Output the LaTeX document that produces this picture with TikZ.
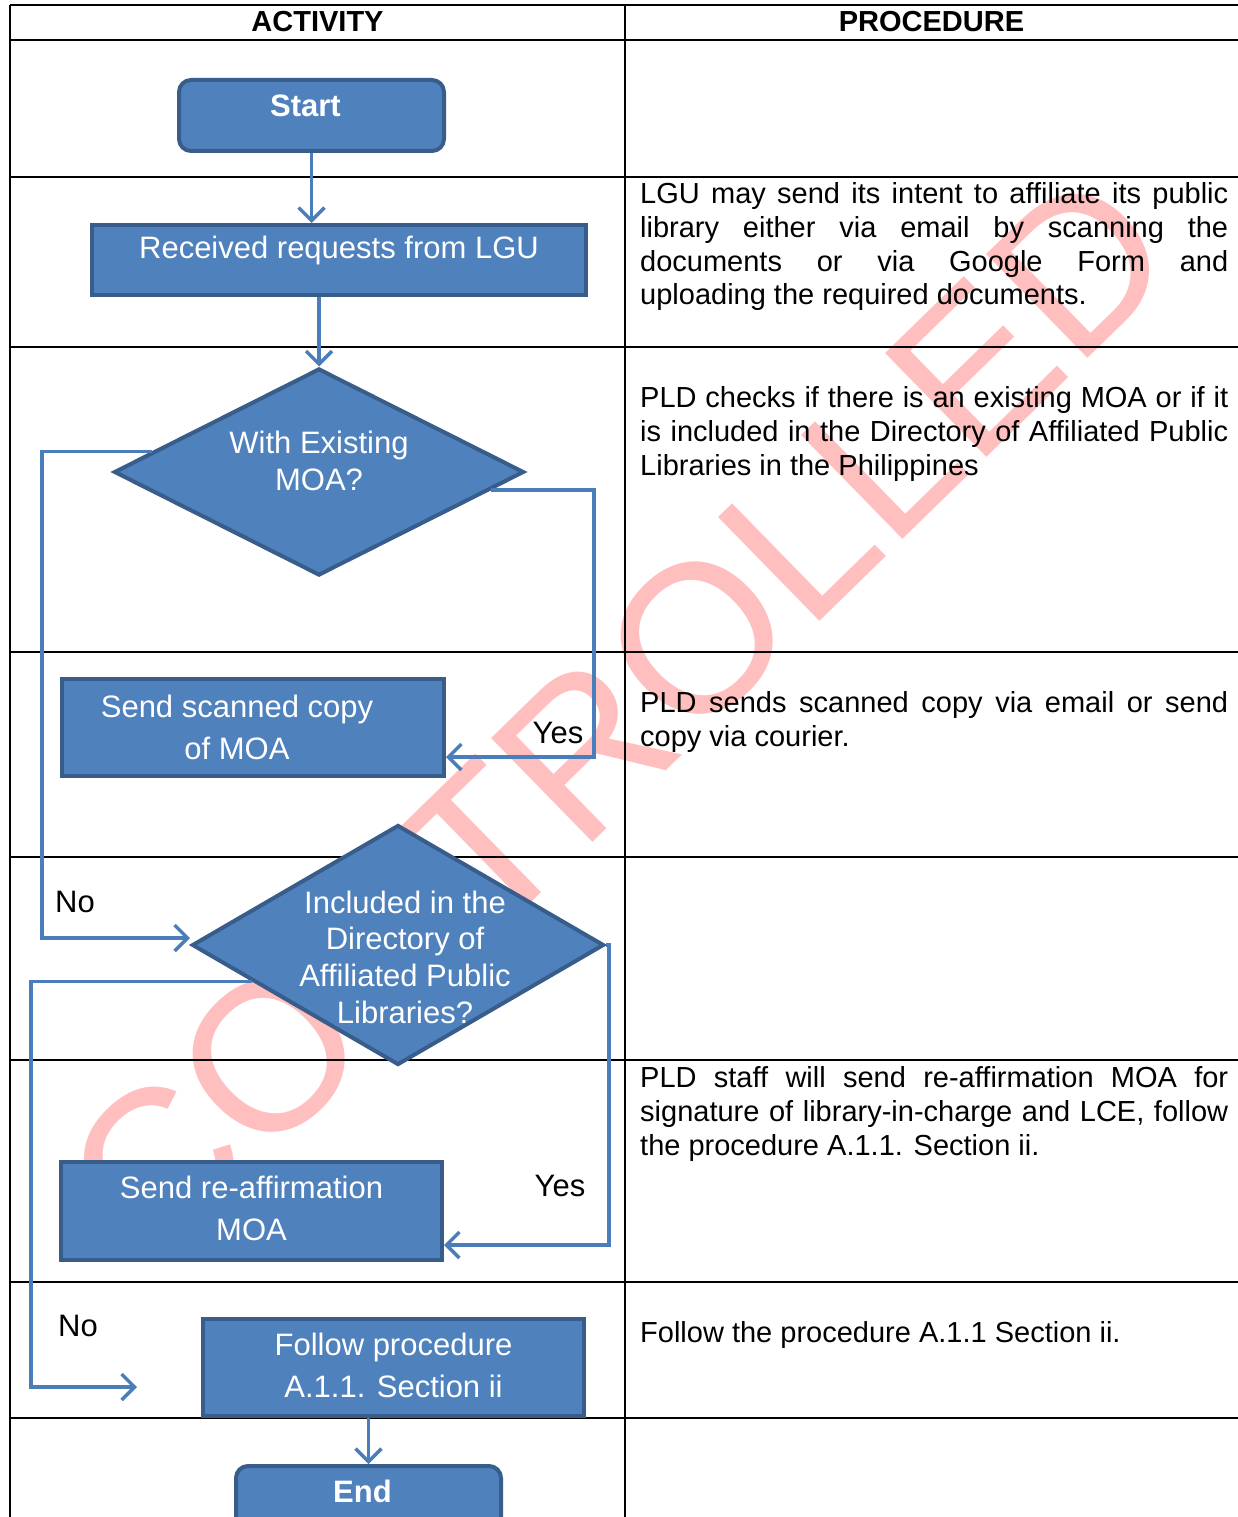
\documentclass[tikz,border=0pt]{standalone}
\usepackage{fontspec}
\setmainfont{Liberation Sans}
\usetikzlibrary{shapes.geometric,arrows.meta,calc}
\definecolor{fcfill}{HTML}{4F81BD}
\definecolor{fcedge}{HTML}{385D8A}
\definecolor{fcline}{HTML}{4A7EBB}
\definecolor{wmark}{HTML}{FFBFBF}
\begin{document}
\begin{tikzpicture}[x=1pt,y=-1pt,
  box/.style={draw=fcedge, fill=fcfill, line width=4pt, inner sep=0pt},
  rbox/.style={box, rounded corners=12pt},
  dia/.style={box, diamond},
  wtxt/.style={text=white, font=\fontsize{31}{42}\selectfont, align=center, inner sep=0pt},
  dtxt/.style={text=white, font=\fontsize{31}{36.7}\selectfont, align=center, inner sep=0pt},
  conn/.style={draw=fcline, line width=3.5pt, -{Straight Barb[length=13pt,width=26pt,line width=3.5pt]}},
  tbl/.style={draw=black, line width=1.5pt},
  hdr/.style={font=\fontsize{29}{33}\selectfont\bfseries, inner sep=0pt},
  lbl/.style={font=\fontsize{31}{36}\selectfont, inner sep=0pt},
  ptxt/.style={text width=588pt, align=justify, inner sep=0pt,
    font=\fontsize{29}{33.7}\selectfont},
  wm/.style={text=wmark, font=\fontsize{211}{211}\selectfont, inner sep=0pt}
]
\useasboundingbox (0,0) rectangle (1238,1517);
\clip (0,0) rectangle (1238,1517);

% watermark
\node[wm, rotate=44.3] (water) at (618,716) {CONTROLLED};

% table
\foreach \yy in {5,40,177,347,652,857,1060,1282,1418}
  \draw[tbl] (10,\yy) -- (1238,\yy);
\draw[tbl] (10,5) -- (10,1517);
\draw[tbl] (625,5) -- (625,1517);

\node[hdr] (hact) at (317.5,22) {ACTIVITY};
\node[hdr] (hproc) at (931.5,22) {PROCEDURE};

% flowchart nodes
\node[rbox, minimum width=265pt, minimum height=71pt,
  label={[wtxt, xshift=-6pt, yshift=10pt]center:\textbf{Start}}] (start) at (311.5,115.5) {};
\node[box, minimum width=494pt, minimum height=70pt,
  label={[wtxt, yshift=10pt]center:Received requests from LGU}] (recv) at (339,260) {};
\node[dia, minimum width=410pt, minimum height=207pt,
  label={[dtxt, yshift=11pt]center:With Existing\\MOA?}] (d1) at (319,472) {};
\node[box, minimum width=382pt, minimum height=97pt,
  label={[wtxt, xshift=-16pt]center:Send scanned copy\\of MOA}] (scan) at (253,727.5) {};
\node[dia, minimum width=412pt, minimum height=240pt,
  label={[dtxt, xshift=7pt, yshift=-12pt]center:Included in the\\Directory of\\Affiliated Public\\Libraries?}] (d2) at (398,945) {};
\node[box, minimum width=381pt, minimum height=98pt,
  label={[wtxt, yshift=3pt]center:Send re-affirmation\\MOA}] (reaff) at (251.5,1211) {};
\node[box, minimum width=381pt, minimum height=97pt,
  label={[wtxt, yshift=2pt]center:Follow procedure\\A.1.1. Section ii}] (follow) at (393.5,1367.5) {};
\node[rbox, minimum width=265pt, minimum height=71pt,
  label={[wtxt, xshift=-6pt, yshift=10pt]center:\textbf{End}}] (end) at (368.5,1501.5) {};

\coordinate (no2end) at (137,1387);

% labels
\node[lbl] (yes1) at (558,733) {Yes};
\node[lbl] (no1) at (75,902) {No};
\node[lbl] (yes2) at (560,1186) {Yes};
\node[lbl] (no2) at (78,1326) {No};

% connectors
\draw[conn] (start.south) -- (start.south |- recv.north);
\draw[conn] (d1.north |- recv.south) -- (d1.north);
\draw[conn] (d1.-6.5) -| ([xshift=148pt,yshift=-29.5pt]scan.east) -- ([yshift=-29.5pt]scan.east);
\draw[conn] (d1.173.7) -| ([xshift=-148pt,yshift=7pt]d2.west) -- ([yshift=7pt]d2.west);
\draw[conn] (d2.east) -| ([xshift=165pt,yshift=-34pt]reaff.east) -- ([yshift=-34pt]reaff.east);
\draw[conn] (d2.194.5) -| ([xshift=-106pt]no2end) -- (no2end);
\draw[conn] (end.north |- follow.south) -- (end.north);

% procedure texts
\node[ptxt, anchor=north west] (p2) at (640,180) {\hyphenpenalty=10000\relax\exhyphenpenalty=10000\relax\tolerance=9999\relax\strut LGU may send its intent to affiliate its public\linebreak library either via email by scanning the\linebreak documents or via Google Form and\linebreak uploading the required documents.};
\node[ptxt, anchor=north west] (p3) at (640,384) {\hyphenpenalty=10000\relax\tolerance=9999\relax\strut PLD checks if there is an existing MOA or if it\linebreak is included in the Directory of Affiliated Public\linebreak Libraries in the Philippines};
\node[ptxt, anchor=north west] (p4) at (640,689) {\hyphenpenalty=10000\relax\tolerance=9999\relax\strut PLD sends scanned copy via email or send\linebreak copy via courier.};
\node[ptxt, anchor=north west] (p6) at (640,1064) {\hyphenpenalty=10000\relax\exhyphenpenalty=10000\relax\tolerance=9999\relax\strut PLD staff will send re-affirmation MOA for\linebreak signature of library-in-charge and LCE, follow\linebreak the procedure A.1.1. Section ii.};
\node[ptxt, anchor=north west] (p7) at (640,1319) {\strut Follow the procedure A.1.1 Section ii.};
\end{tikzpicture}
\end{document}
